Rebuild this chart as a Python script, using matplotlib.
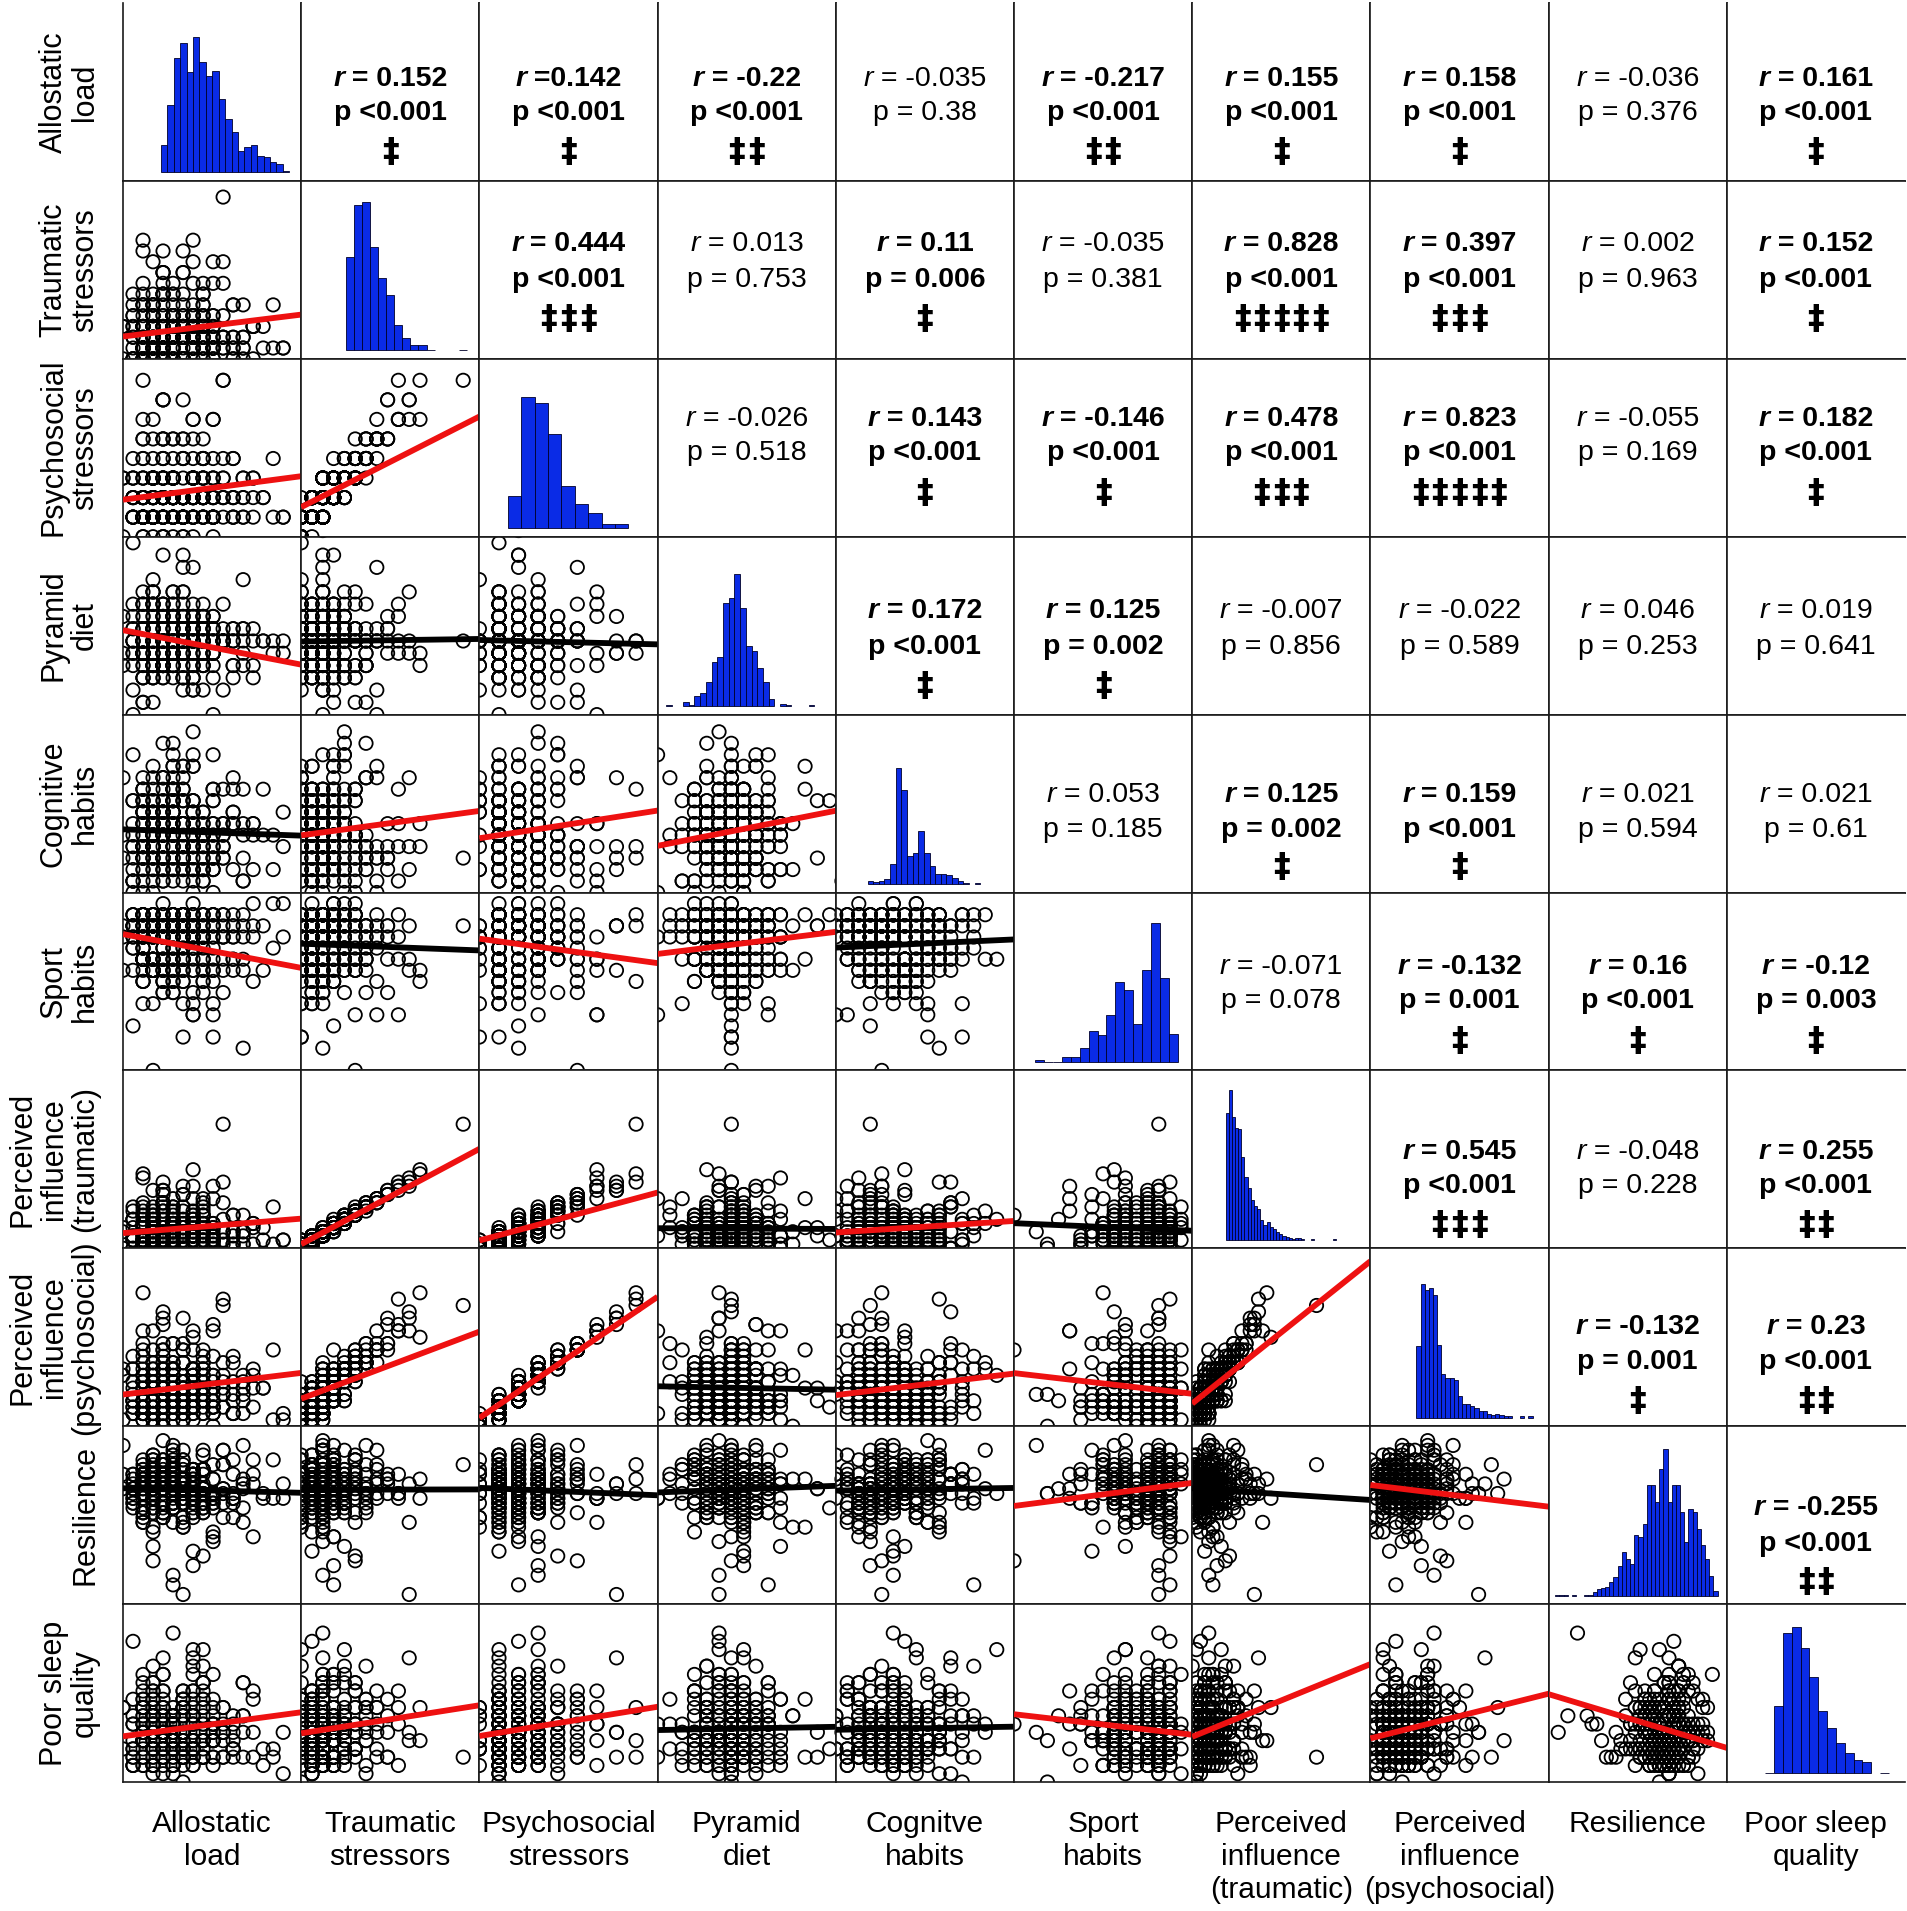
"""
Pairs matrix: allostatic load, stressors, lifestyle, resilience and sleep.
Lower triangle = scatter + fit line, diagonal = histograms, upper = r / p.
"""

import numpy as np
import matplotlib
matplotlib.use("Agg")
import matplotlib.pyplot as plt
from matplotlib.offsetbox import TextArea, HPacker, AnnotationBbox

plt.rcParams['font.family'] = ['Liberation Sans', 'DejaVu Sans']


# ─── Variable names ──────────────────────────────────────────────────────────

row_names = ["Allostatic\nload", "Traumatic\nstressors", "Psychosocial\nstressors",
             "Pyramid\ndiet", "Cognitive\nhabits", "Sport\nhabits",
             "Perceived\ninfluence\n(traumatic)", "Perceived\ninfluence\n(psychosocial)",
             "Resilience", "Poor sleep\nquality"]
col_names = ["Allostatic\nload", "Traumatic\nstressors", "Psychosocial\nstressors",
             "Pyramid\ndiet", "Cognitve\nhabits", "Sport\nhabits",
             "Perceived\ninfluence\n(traumatic)", "Perceived\ninfluence\n(psychosocial)",
             "Resilience", "Poor sleep\nquality"]

# ─── Subject scores (estimated from the scatter clouds) ─────────────────────

allostatic_load = [
    5, 3, 8, 2, 11, 6, 4, 1, 7, 9,   3, 6, 2, 10, 5, 4, 13, 7, 2, 5,
    8, 1, 4, 6, 3, 9, 5, 2, 12, 6,   4, 7, 3, 5, 14, 2, 8, 6, 3, 0,
    6, 2, 9, 4, 7, 3, 5, 11, 1, 8,   2, 5, 7, 3, 6, 10, 4, 2, 8, 5,
    7, 4, 1, 9, 5, 3, 6, 15, 4, 2,   3, 8, 5, 2, 6, 4, 7, 3, 10, 6,
    5, 2, 12, 7, 3, 8, 1, 5, 4, 9,   6, 3, 4, 0, 8, 5, 2, 7, 13, 3,
    4, 9, 6, 5, 2, 7, 3, 11, 6, 4,   2, 5, 8, 3, 16, 4, 6, 1, 7, 10,
    8, 3, 5, 6, 4, 2, 9, 5, 3, 7,    5, 11, 2, 7, 4, 6, 3, 8, 5, 12,
    3, 6, 4, 9, 1, 5, 7, 2, 6, 4,
    4, 7, 2, 9, 5, 3, 11, 6, 1, 8,   6, 3, 5, 12, 2, 7, 4, 9, 5, 3,
    2, 8, 6, 4, 10, 5, 3, 7, 14, 4,  9, 5, 3, 6, 1, 8, 2, 5, 7, 11,
    3, 6, 13, 2, 8, 4, 6, 0, 5, 7,   7, 2, 4, 8, 5, 11, 3, 6, 9, 2,
    5, 10, 6, 3, 7, 2, 8, 4, 1, 6,   2, 4, 9, 5, 3, 6, 15, 7, 4, 8,
    6, 1, 5, 7, 12, 3, 4, 9, 6, 2,   8, 5, 3, 4, 6, 9, 7, 2, 10, 5,
    3, 7, 2, 11, 4, 5, 8, 3, 6, 13,  5, 9, 4, 6, 2, 7, 1, 10, 3, 6,
    7, 3, 8, 5, 9, 4, 6, 2, 16, 4,   4, 6, 10, 2, 7, 3, 5, 8, 4, 9,
    1, 5, 7, 3, 6, 12, 2, 4, 8, 5]
traumatic = [
    2, 0, 3, 1, 5, 2, 1, 4, 0, 3,    1, 2, 6, 2, 0, 1, 3, 4, 2, 1,
    3, 5, 1, 0, 2, 7, 1, 3, 2, 4,    0, 1, 2, 4, 3, 1, 6, 2, 5, 0,
    2, 3, 1, 8, 2, 0, 4, 1, 3, 2,    5, 1, 2, 0, 3, 9, 2, 1, 4, 6,
    1, 4, 0, 2, 3, 1, 2, 5, 0, 3,    2, 6, 1, 3, 0, 2, 4, 1, 15, 2,
    3, 0, 5, 2, 1, 7, 3, 2, 1, 4,    1, 2, 0, 3, 4, 2, 10, 1, 3, 5,
    4, 1, 3, 2, 0, 1, 6, 2, 3, 1,    0, 3, 2, 5, 1, 8, 2, 0, 4, 1,
    2, 1, 4, 0, 3, 2, 1, 7, 2, 11,   3, 5, 2, 1, 6, 0, 3, 2, 4, 1,
    1, 0, 2, 9, 1, 3, 5, 4, 10, 6,
    1, 3, 0, 2, 4, 1, 2, 0, 6, 3,    2, 1, 5, 0, 3, 2, 8, 1, 2, 4,
    0, 2, 3, 1, 7, 2, 0, 4, 1, 3,    4, 0, 1, 3, 2, 5, 1, 2, 9, 0,
    2, 6, 3, 1, 0, 2, 4, 3, 1, 7,    3, 1, 2, 4, 1, 0, 5, 2, 3, 1,
    0, 2, 8, 3, 2, 1, 3, 6, 0, 2,    5, 3, 1, 0, 4, 2, 1, 3, 10, 1,
    2, 0, 4, 2, 1, 3, 6, 0, 2, 5,    1, 4, 2, 7, 3, 0, 2, 1, 4, 2,
    3, 2, 0, 1, 5, 3, 1, 9, 2, 0,    6, 1, 3, 2, 0, 4, 2, 1, 3, 8,
    2, 4, 1, 3, 2, 0, 5, 3, 1, 2,    0, 3, 2, 11, 1, 4, 2, 0, 3, 1,
    4, 2, 1, 3, 0, 2, 7, 1, 5, 3]
psychosocial = [
    2, 1, 3, 1, 4, 1, 2, 3, 0, 2,    1, 2, 5, 3, 1, 0, 2, 4, 1, 2,
    3, 3, 1, 1, 2, 6, 1, 2, 3, 3,    1, 2, 1, 3, 2, 1, 4, 2, 5, 0,
    2, 3, 1, 7, 1, 1, 3, 2, 2, 1,    4, 1, 3, 1, 2, 8, 2, 1, 3, 5,
    2, 2, 1, 2, 3, 1, 1, 4, 0, 2,    1, 4, 2, 2, 1, 3, 3, 1, 8, 2,
    2, 1, 3, 2, 1, 5, 2, 3, 1, 4,    1, 2, 0, 3, 2, 1, 6, 2, 3, 4,
    3, 1, 2, 1, 2, 1, 3, 2, 4, 1,    1, 2, 2, 3, 1, 7, 2, 1, 3, 2,
    2, 1, 3, 0, 2, 2, 1, 5, 1, 6,    2, 4, 1, 1, 5, 1, 3, 2, 2, 1,
    1, 0, 2, 6, 2, 3, 3, 3, 7, 4,
    1, 2, 0, 3, 3, 2, 1, 1, 4, 2,    2, 1, 3, 1, 2, 3, 5, 2, 1, 3,
    1, 2, 2, 1, 4, 1, 0, 3, 2, 3,    3, 1, 2, 2, 1, 4, 1, 2, 6, 1,
    2, 4, 3, 1, 1, 2, 2, 3, 2, 5,    2, 1, 2, 4, 2, 1, 3, 1, 3, 1,
    0, 2, 5, 2, 3, 1, 2, 4, 1, 2,    3, 2, 1, 1, 3, 2, 1, 3, 7, 2,
    1, 1, 3, 2, 2, 3, 4, 0, 2, 4,    2, 2, 1, 5, 2, 1, 3, 1, 3, 2,
    3, 1, 1, 2, 3, 2, 1, 6, 2, 1,    4, 2, 2, 1, 0, 3, 2, 1, 2, 5,
    2, 3, 1, 2, 1, 1, 4, 2, 1, 3,    1, 2, 2, 8, 1, 3, 2, 1, 2, 1,
    3, 2, 1, 2, 1, 2, 5, 2, 3, 2]
pyramid_diet = [
    12, 10, 14, 11, 9, 13, 15, 12, 8, 11,   13, 11, 7, 12, 16, 10, 12, 14, 11, 9,
    10, 15, 12, 13, 11, 6, 12, 10, 17, 13,  11, 12, 9, 14, 12, 10, 13, 19, 12, 11,
    14, 9, 12, 11, 13, 15, 10, 12, 8, 12,   12, 13, 10, 16, 11, 12, 14, 9, 13, 10,
    9, 12, 13, 11, 5, 14, 11, 12, 10, 15,   13, 10, 12, 14, 12, 11, 9, 13, 12, 18,
    11, 14, 10, 12, 13, 8, 12, 11, 15, 12,  12, 11, 13, 10, 14, 12, 16, 11, 9, 13,
    10, 13, 12, 15, 11, 13, 10, 12, 14, 11, 15, 12, 11, 9, 12, 14, 13, 20, 11, 12,
    12, 9, 14, 12, 10, 11, 13, 12, 16, 10,  11, 13, 12, 10, 15, 12, 7, 14, 12, 13,
    13, 12, 10, 14, 11, 4, 12, 13, 11, 12,
    11, 13, 12, 9, 14, 12, 10, 15, 12, 11,  12, 10, 16, 13, 11, 8, 13, 12, 14, 10,
    13, 12, 10, 14, 12, 11, 17, 9, 12, 13,  10, 14, 12, 11, 6, 13, 12, 10, 15, 12,
    12, 11, 13, 15, 10, 12, 9, 14, 11, 18,  14, 12, 9, 11, 13, 10, 12, 16, 13, 11,
    11, 8, 13, 12, 14, 11, 15, 12, 10, 12,  13, 12, 11, 10, 12, 21, 11, 13, 12, 14,
    9, 14, 12, 13, 11, 12, 10, 12, 14, 7,   12, 10, 15, 12, 13, 11, 14, 9, 12, 13,
    15, 12, 11, 13, 10, 14, 12, 11, 16, 10, 11, 13, 12, 8, 12, 13, 11, 15, 10, 12,
    12, 16, 10, 12, 14, 9, 13, 12, 11, 14,  10, 12, 13, 11, 12, 15, 10, 13, 19, 11,
    13, 11, 12, 14, 9, 12, 13, 10, 12, 15]
cognitive = [
    4, 7, 2, 5, 9, 3, 6, 1, 8, 5,    6, 3, 10, 4, 2, 7, 5, 12, 3, 8,
    5, 1, 6, 8, 4, 0, 9, 3, 6, 2,    7, 4, 3, 11, 5, 6, 2, 8, 4, 10,
    3, 9, 5, 2, 7, 4, 13, 6, 1, 5,   8, 2, 4, 6, 3, 9, 5, 7, 2, 4,
    0, 6, 8, 3, 10, 5, 4, 2, 7, 6,   5, 3, 1, 7, 4, 8, 6, 11, 3, 9,
    2, 7, 5, 4, 6, 1, 3, 5, 8, 12,   6, 4, 9, 3, 5, 7, 2, 4, 6, 0,
    3, 8, 4, 6, 1, 5, 10, 7, 3, 5,   7, 5, 2, 9, 4, 3, 6, 8, 14, 4,
    4, 1, 6, 5, 7, 2, 9, 3, 5, 6,    9, 6, 3, 8, 2, 11, 4, 5, 7, 1,
    5, 2, 7, 4, 6, 3, 8, 0, 4, 10,
    5, 2, 8, 4, 6, 3, 7, 10, 4, 6,   3, 7, 5, 1, 9, 4, 6, 2, 8, 5,
    6, 4, 11, 5, 3, 7, 2, 5, 9, 3,   2, 8, 4, 6, 12, 5, 3, 7, 1, 6,
    7, 3, 6, 9, 4, 2, 8, 5, 4, 11,   4, 6, 1, 5, 7, 10, 3, 6, 2, 8,
    9, 5, 3, 7, 2, 4, 6, 13, 5, 3,   3, 7, 6, 4, 8, 1, 5, 3, 10, 7,
    6, 2, 9, 5, 3, 6, 4, 8, 2, 5,    1, 5, 4, 10, 6, 3, 7, 4, 6, 9,
    8, 4, 7, 2, 5, 11, 3, 6, 4, 2,   5, 9, 3, 6, 4, 7, 0, 5, 8, 4,
    2, 6, 5, 8, 3, 5, 9, 4, 7, 3,    7, 3, 6, 4, 11, 2, 5, 7, 3, 6,
    4, 8, 2, 5, 6, 9, 4, 1, 5, 12]
sport = [
    13, 9, 12, 14, 10, 8, 13, 11, 6, 12,   10, 14, 13, 7, 9, 12, 15, 13, 10, 8,
    12, 13, 9, 11, 14, 5, 13, 12, 9, 14,   8, 12, 14, 10, 13, 9, 11, 13, 0, 12,
    14, 10, 6, 13, 12, 9, 14, 10, 13, 7,   11, 13, 9, 12, 8, 14, 13, 10, 12, 9,
    13, 7, 12, 14, 10, 13, 9, 15, 11, 13,  9, 12, 13, 8, 14, 10, 12, 6, 13, 10,
    12, 14, 10, 13, 9, 12, 4, 13, 14, 11,  10, 13, 12, 9, 13, 14, 10, 12, 8, 13,
    13, 9, 14, 12, 10, 7, 13, 9, 12, 14,   6, 13, 10, 14, 12, 13, 9, 14, 10, 12,
    12, 10, 13, 9, 15, 12, 13, 8, 14, 9,   14, 12, 8, 13, 10, 3, 12, 13, 9, 13,
    9, 13, 12, 10, 14, 13, 5, 12, 13, 10,
    12, 14, 10, 13, 9, 12, 14, 11, 13, 8,  13, 9, 12, 14, 11, 13, 7, 12, 14, 10,
    10, 13, 14, 8, 12, 10, 13, 15, 9, 12,  14, 11, 9, 13, 12, 14, 10, 13, 5, 13,
    9, 12, 13, 10, 14, 8, 12, 13, 11, 14,  13, 10, 14, 12, 7, 13, 9, 12, 14, 11,
    11, 14, 12, 9, 13, 12, 14, 10, 13, 6,  14, 12, 8, 13, 10, 14, 11, 13, 9, 12,
    12, 9, 13, 14, 12, 10, 13, 3, 12, 14,  10, 13, 12, 11, 14, 9, 12, 14, 10, 13,
    13, 11, 14, 12, 9, 13, 8, 12, 14, 12,  7, 14, 13, 10, 12, 11, 14, 9, 13, 10,
    12, 10, 9, 14, 13, 12, 10, 13, 15, 11, 14, 13, 12, 8, 11, 14, 12, 10, 13, 9,
    11, 12, 14, 13, 10, 2, 13, 12, 9, 14]
pi_traumatic = [
    4, 0, 6, 2, 8, 5, 2, 7, 1, 5,     2, 3, 10, 4, 0, 2, 6, 8, 3, 1,
    5, 9, 3, 0, 3, 12, 1, 6, 4, 7,    1, 2, 4, 7, 5, 2, 10, 3, 8, 0,
    3, 6, 1, 14, 4, 2, 6, 3, 5, 4,    9, 2, 3, 1, 6, 16, 3, 0, 8, 10,
    3, 7, 0, 4, 4, 1, 3, 10, 2, 5,    3, 11, 2, 6, 0, 4, 8, 2, 30, 5,
    5, 1, 8, 3, 2, 12, 7, 4, 1, 6,    2, 4, 0, 4, 8, 3, 17, 3, 6, 9,
    7, 2, 5, 3, 1, 3, 10, 4, 4, 0,    0, 6, 4, 8, 2, 14, 4, 2, 7, 2,
    4, 1, 6, 0, 5, 3, 2, 12, 3, 19,   6, 8, 3, 2, 11, 1, 5, 4, 8, 3,
    2, 0, 3, 15, 2, 5, 9, 7, 15, 11,
    2, 5, 1, 3, 7, 1, 4, 0, 10, 6,    4, 2, 9, 1, 5, 3, 13, 2, 3, 7,
    0, 3, 6, 2, 11, 4, 1, 7, 2, 5,    6, 0, 3, 5, 3, 9, 1, 4, 15, 1,
    3, 10, 5, 2, 0, 4, 7, 5, 1, 12,   6, 1, 4, 6, 3, 0, 8, 3, 5, 2,
    1, 4, 13, 5, 3, 2, 6, 9, 0, 3,    8, 5, 2, 0, 7, 3, 1, 6, 16, 3,
    3, 2, 7, 4, 1, 5, 10, 0, 4, 8,    2, 6, 4, 11, 5, 1, 3, 2, 7, 3,
    5, 4, 0, 1, 9, 6, 2, 14, 3, 1,    10, 2, 5, 4, 0, 7, 3, 1, 6, 13,
    4, 7, 2, 5, 3, 1, 9, 5, 2, 3,     0, 5, 4, 18, 2, 6, 3, 1, 5, 2,
    7, 3, 2, 6, 0, 4, 11, 2, 8, 5]
pi_psychosocial = [
    6, 3, 8, 2, 10, 4, 5, 9, 1, 4,    2, 7, 13, 7, 4, 0, 6, 9, 3, 5,
    9, 7, 2, 5, 4, 15, 3, 6, 8, 10,   3, 5, 1, 9, 6, 4, 10, 4, 12, 1,
    5, 8, 3, 17, 2, 4, 9, 7, 6, 2,    11, 4, 7, 3, 5, 20, 6, 2, 9, 13,
    6, 4, 3, 5, 8, 1, 2, 12, 0, 7,    2, 10, 5, 4, 3, 9, 8, 4, 19, 6,
    5, 3, 7, 6, 2, 12, 4, 10, 3, 11,  4, 6, 0, 8, 5, 2, 15, 7, 9, 10,
    8, 2, 6, 4, 7, 3, 10, 4, 12, 1,   3, 5, 7, 10, 2, 16, 4, 3, 8, 6,
    4, 3, 9, 2, 6, 8, 2, 13, 4, 14,   7, 11, 2, 3, 12, 5, 7, 6, 4, 2,
    2, 1, 5, 16, 4, 8, 9, 7, 17, 10,
    3, 6, 1, 8, 9, 4, 2, 3, 11, 5,    5, 2, 9, 4, 6, 7, 13, 4, 3, 8,
    2, 5, 7, 3, 10, 4, 0, 9, 6, 7,    8, 3, 4, 6, 2, 11, 4, 5, 15, 2,
    6, 10, 8, 2, 3, 5, 7, 9, 4, 12,   4, 3, 6, 9, 5, 2, 8, 1, 7, 4,
    1, 5, 12, 7, 6, 3, 4, 10, 2, 6,   9, 4, 3, 2, 7, 6, 1, 8, 18, 5,
    3, 4, 7, 5, 6, 9, 11, 0, 4, 10,   6, 5, 2, 12, 4, 3, 9, 2, 8, 7,
    7, 3, 2, 5, 9, 6, 4, 15, 5, 3,    10, 6, 4, 2, 1, 8, 5, 3, 7, 13,
    5, 8, 4, 6, 2, 3, 10, 7, 1, 9,    2, 7, 5, 21, 3, 9, 4, 2, 6, 3,
    9, 4, 2, 6, 4, 5, 12, 6, 8, 4]
resilience = [
    26, 30, 22, 28, 33, 19, 27, 24, 31, 25,   29, 21, 26, 35, 23, 28, 17, 30, 26, 32,
    24, 27, 31, 20, 28, 25, 34, 22, 29, 26,   33, 25, 18, 29, 26, 31, 23, 27, 12, 30,
    27, 32, 24, 26, 21, 29, 35, 25, 28, 23,   20, 28, 30, 25, 33, 26, 22, 31, 27, 36,
    29, 24, 27, 16, 30, 28, 25, 33, 21, 26,   31, 26, 23, 29, 27, 37, 24, 28, 32, 19,
    25, 30, 28, 22, 26, 31, 27, 9, 29, 24,    28, 23, 33, 27, 24, 29, 20, 26, 30, 34,
    22, 29, 26, 31, 28, 14, 30, 25, 27, 32,   30, 27, 24, 33, 25, 28, 31, 23, 26, 21,
    26, 34, 29, 24, 30, 27, 18, 32, 28, 25,   31, 25, 28, 30, 22, 26, 29, 35, 24, 27,
    24, 28, 32, 26, 29, 23, 27, 30, 5, 28,
    27, 23, 30, 25, 29, 32, 21, 28, 26, 34,   25, 31, 28, 20, 27, 24, 30, 26, 33, 22,
    30, 26, 24, 29, 35, 27, 19, 31, 25, 28,   23, 29, 27, 32, 25, 13, 28, 24, 30, 26,
    28, 25, 33, 22, 30, 27, 24, 36, 26, 29,   31, 27, 21, 28, 24, 30, 26, 29, 17, 25,
    26, 32, 29, 25, 28, 23, 31, 27, 30, 24,   22, 28, 26, 34, 27, 29, 25, 11, 28, 31,
    29, 24, 31, 27, 23, 28, 32, 26, 24, 30,   27, 30, 25, 28, 33, 26, 22, 29, 27, 20,
    33, 26, 28, 24, 29, 31, 27, 25, 35, 28,   24, 29, 32, 26, 21, 28, 30, 27, 25, 29,
    28, 15, 27, 30, 26, 24, 29, 33, 28, 23,   30, 27, 24, 29, 31, 26, 28, 22, 27, 32,
    25, 28, 30, 23, 27, 36, 26, 29, 31, 7]
poor_sleep = [
    5, 8, 3, 11, 6, 4, 9, 2, 7, 13,   4, 7, 10, 5, 3, 8, 6, 14, 5, 2,
    9, 3, 6, 4, 12, 7, 1, 5, 8, 6,    6, 11, 4, 8, 2, 5, 10, 3, 7, 4,
    3, 5, 9, 6, 15, 4, 7, 8, 2, 11,   7, 4, 2, 10, 5, 9, 3, 6, 12, 5,
    8, 6, 5, 3, 7, 1, 11, 4, 9, 6,    2, 9, 7, 5, 4, 13, 6, 8, 3, 10,
    5, 3, 12, 7, 6, 4, 8, 18, 5, 7,   10, 6, 4, 9, 3, 7, 5, 2, 11, 4,
    4, 8, 6, 2, 10, 5, 14, 7, 3, 8,   7, 2, 5, 11, 6, 3, 9, 4, 16, 6,
    3, 10, 8, 4, 7, 12, 5, 6, 2, 9,   6, 4, 13, 5, 8, 0, 7, 10, 4, 3,
    9, 5, 3, 7, 17, 6, 4, 8, 6, 1,
    6, 3, 9, 5, 7, 11, 4, 8, 2, 6,    8, 5, 4, 12, 6, 3, 10, 5, 7, 9,
    3, 7, 6, 2, 9, 5, 8, 13, 4, 6,    10, 4, 8, 6, 3, 7, 5, 2, 11, 5,
    5, 9, 3, 7, 14, 6, 4, 9, 6, 3,    7, 2, 11, 5, 8, 4, 6, 10, 3, 8,
    4, 6, 8, 3, 5, 9, 12, 6, 7, 2,    9, 5, 2, 7, 4, 6, 3, 8, 15, 5,
    6, 10, 5, 4, 8, 2, 7, 5, 9, 4,    3, 8, 7, 11, 5, 6, 4, 9, 3, 7,
    12, 4, 6, 3, 9, 5, 8, 2, 6, 10,   5, 7, 13, 6, 2, 8, 4, 7, 5, 3,
    8, 3, 5, 9, 6, 4, 11, 6, 1, 7,    4, 9, 6, 5, 10, 7, 3, 16, 6, 5,
    7, 5, 4, 8, 3, 6, 9, 4, 12, 8]

variables = [allostatic_load, traumatic, psychosocial, pyramid_diet, cognitive,
             sport, pi_traumatic, pi_psychosocial, resilience, poor_sleep]

# axis range used for each variable in the scatter panels
var_limits = [(0, 17.8), (0, 16.5), (0, 9.1), (6, 20.5), (0, 15.5),
              (0, 16), (0, 43), (0, 28), (3, 40), (0, 21.5)]

# ─── Histogram bin counts (diagonal) ─────────────────────────────────────────

hist_counts = [
    [82, 205, 345, 392, 303, 410, 335, 290, 308, 222, 162, 122, 65, 77, 82, 50, 45, 32, 25, 5],
    [280, 436, 446, 311, 216, 165, 76, 36, 15, 15, 2, 0, 0, 0, 2],
    [95, 393, 375, 281, 125, 71, 46, 11, 11],
    [2, 0, 0, 11, 3, 30, 40, 71, 131, 148, 308, 323, 396, 293, 181, 165, 115, 71,
     22, 0, 6, 2, 0, 0, 0, 2],
    [8, 5, 8, 15, 61, 348, 283, 85, 93, 160, 93, 53, 30, 30, 28, 18, 10, 3, 0, 3],
    [6, 1, 1, 14, 14, 42, 93, 80, 142, 240, 217, 115, 275, 418, 252, 83],
    [380, 450, 370, 335, 333, 250, 188, 155, 120, 100, 93, 60, 43, 53, 38, 33, 23,
     18, 10, 7, 5, 3, 6, 5, 3, 0, 0, 3, 0, 0, 0, 0, 0, 0, 3],
    [215, 402, 385, 390, 370, 218, 130, 118, 120, 113, 65, 40, 40, 35, 28, 20, 20,
     12, 8, 10, 8, 5, 5, 0, 0, 5, 0, 5],
    [3, 3, 3, 0, 3, 0, 0, 3, 3, 12, 20, 22, 25, 40, 55, 90, 130, 110, 95, 180, 175,
     215, 330, 330, 280, 380, 438, 280, 330, 330, 250, 160, 260, 250, 200, 150,
     110, 60, 15],
    [2, 204, 422, 442, 377, 292, 187, 137, 92, 62, 42, 34, 0, 2],
]

# where each histogram sits inside its panel (axes fraction): x from, x to, peak
hist_span = [(0.213, 0.933, 0.81), (0.252, 0.929, 0.884), (0.159, 0.836, 0.785),
             (0.047, 0.879, 0.79), (0.178, 0.811, 0.70), (0.118, 0.92, 0.83),
             (0.187, 0.807, 0.89), (0.258, 0.91, 0.80), (0.037, 0.948, 0.87),
             (0.216, 0.91, 0.873)]
hist_base = 0.048

# ─── Correlations (upper triangle, row by row) ───────────────────────────────

r_labels = [
    ["= 0.152", "=0.142", "= -0.22", "= -0.035", "= -0.217", "= 0.155", "= 0.158", "= -0.036", "= 0.161"],
    ["= 0.444", "= 0.013", "= 0.11", "= -0.035", "= 0.828", "= 0.397", "= 0.002", "= 0.152"],
    ["= -0.026", "= 0.143", "= -0.146", "= 0.478", "= 0.823", "= -0.055", "= 0.182"],
    ["= 0.172", "= 0.125", "= -0.007", "= -0.022", "= 0.046", "= 0.019"],
    ["= 0.053", "= 0.125", "= 0.159", "= 0.021", "= 0.021"],
    ["= -0.071", "= -0.132", "= 0.16", "= -0.12"],
    ["= 0.545", "= -0.048", "= 0.255"],
    ["= -0.132", "= 0.23"],
    ["= -0.255"],
]
p_labels = [
    ["<0.001", "<0.001", "<0.001", "= 0.38", "<0.001", "<0.001", "<0.001", "= 0.376", "<0.001"],
    ["<0.001", "= 0.753", "= 0.006", "= 0.381", "<0.001", "<0.001", "= 0.963", "<0.001"],
    ["= 0.518", "<0.001", "<0.001", "<0.001", "<0.001", "= 0.169", "<0.001"],
    ["<0.001", "= 0.002", "= 0.856", "= 0.589", "= 0.253", "= 0.641"],
    ["= 0.185", "= 0.002", "<0.001", "= 0.594", "= 0.61"],
    ["= 0.078", "= 0.001", "<0.001", "= 0.003"],
    ["<0.001", "= 0.228", "<0.001"],
    ["= 0.001", "<0.001"],
    ["<0.001"],
]
n_marks = [
    [1, 1, 2, 0, 2, 1, 1, 0, 1],
    [3, 0, 1, 0, 5, 3, 0, 1],
    [0, 1, 1, 3, 5, 0, 1],
    [1, 1, 0, 0, 0, 0],
    [0, 1, 1, 0, 0],
    [0, 1, 1, 1],
    [3, 0, 2],
    [1, 2],
    [2],
]

# vertical position of the r / p / mark lines in each row (axes fraction)
r_line_y = [0.57, 0.644, 0.664, 0.58, 0.55, 0.58, 0.54, 0.56, 0.54]
p_line_y = [0.38, 0.445, 0.47, 0.38, 0.35, 0.39, 0.35, 0.36, 0.34]
m_line_y = [0.16, 0.22, 0.243, 0.16, 0.14, 0.16, 0.13, 0.14, 0.12]


# ─── Figure layout ───────────────────────────────────────────────────────────

W, H = 1907, 1911
fig = plt.figure(figsize=(W / 100, H / 100), dpi=100)

left_px, top_px = 123.0, 3.0
cell_w, cell_h = 178.2, 177.9
n = len(variables)

HIST_COLOR = "#0a2be6"
FS = 20.5


def add_text(ax, children, y, sep=0):
    box = HPacker(children=children, pad=0, sep=sep, align="baseline")
    ab = AnnotationBbox(box, (0.5, y), xycoords=ax.transAxes, frameon=False,
                        box_alignment=(0.5, 0.5), pad=0)
    ax.add_artist(ab)


for i in range(n):
    for j in range(n):
        x0 = (left_px + j * cell_w) / W
        y0 = 1 - (top_px + (i + 1) * cell_h) / H
        ax = fig.add_axes([x0, y0, cell_w / W, cell_h / H])
        ax.set_xticks([])
        ax.set_yticks([])
        for s in ax.spines.values():
            s.set_linewidth(1.2)
            s.set_color("#1a1a1a")
        if i == 0:
            ax.spines["top"].set_visible(False)
        if j == n - 1:
            ax.spines["right"].set_visible(False)

        if i == j:
            # histogram
            counts = np.array(hist_counts[i], dtype=float)
            xa, xb, peak = hist_span[i]
            edges = np.linspace(xa, xb, len(counts) + 1)
            keep = counts > 0
            ax.bar(edges[:-1][keep], counts[keep], width=np.diff(edges)[keep],
                   align="edge", color=HIST_COLOR, edgecolor="#000028", linewidth=0.6)
            top = counts.max()
            lo = -hist_base / (peak - hist_base) * top
            ax.set_xlim(0, 1)
            ax.set_ylim(lo, lo + top / (peak - hist_base))

        elif i > j:
            # scatter with fitted line
            xv = np.array(variables[j], dtype=float)
            yv = np.array(variables[i], dtype=float)
            ax.scatter(xv, yv, s=92, facecolors="none", edgecolors="black",
                       linewidths=1.3, zorder=2)
            r = float(r_labels[j][i - j - 1].replace("=", ""))
            sig = n_marks[j][i - j - 1] > 0
            xs = np.array(var_limits[j])
            slope = r * yv.std() / xv.std()
            ys = yv.mean() + slope * (xs - xv.mean())
            ax.plot(xs, ys, color="#ee1111" if sig else "black", lw=4.2,
                    solid_capstyle="butt", zorder=3)
            ax.set_xlim(*var_limits[j])
            ax.set_ylim(*var_limits[i])

        else:
            # correlation text
            k = j - i - 1
            nm = n_marks[i][k]
            w = "bold" if nm else "normal"
            add_text(ax, [TextArea("r", textprops=dict(fontsize=FS, style="italic", weight=w)),
                          TextArea(" " + r_labels[i][k], textprops=dict(fontsize=FS, weight=w))],
                     r_line_y[i])
            add_text(ax, [TextArea("p " + p_labels[i][k], textprops=dict(fontsize=FS, weight=w))],
                     p_line_y[i])
            if nm:
                add_text(ax, [TextArea("\u2021", textprops=dict(fontsize=24, weight="bold",
                                                                family="DejaVu Sans"))
                              for _ in range(nm)], m_line_y[i], sep=2)

# row labels (left) and column labels (bottom)
for i, name in enumerate(row_names):
    yc = 1 - (top_px + (i + 0.5) * cell_h) / H
    fig.text(100 / W, yc, name, rotation=90, ha="right", va="center",
             multialignment="center", fontsize=22, linespacing=1.05)

for j, name in enumerate(col_names):
    xc = (left_px + (j + 0.5) * cell_w) / W
    fig.text(xc, 1 - 1810 / H, name, ha="center", va="top",
             multialignment="center", fontsize=21.5, linespacing=1.22)

fig.savefig("out.png", dpi=100)
